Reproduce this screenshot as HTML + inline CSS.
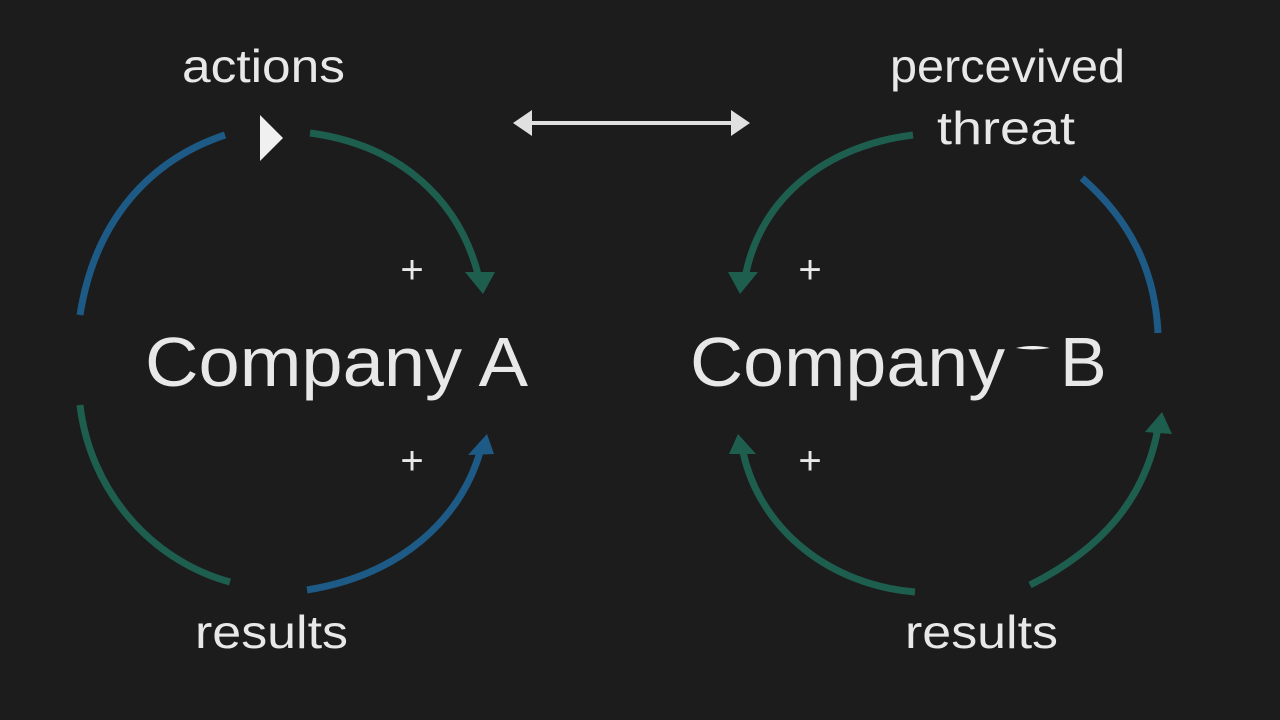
<!DOCTYPE html>
<html><head><meta charset="utf-8"><style>
html,body{margin:0;padding:0;background:#1c1c1c;}
svg{display:block}
text{font-family:"Liberation Sans","DejaVu Sans",sans-serif;fill:#e8e8e8;font-weight:500;}
</style></head><body>
<svg width="1280" height="720" viewBox="0 0 1280 720">
<rect width="1280" height="720" fill="#1c1c1c"/>
<g fill="none" stroke-width="7">
<path d="M80,315 C95,220 150,160 225,135" stroke="#1d5a86"/>
<path d="M310,133 C400,145 460,200 479,278" stroke="#1e5e4e"/>
<path d="M80,405 C90,490 150,560 230,582" stroke="#1e5e4e"/>
<path d="M307,590 C400,575 460,520 480,452" stroke="#1d5a86"/>
<path d="M913,135 C830,145 760,195 745,278" stroke="#1e5e4e"/>
<path d="M1082,178 C1130,220 1155,270 1158,333" stroke="#1d5a86"/>
<path d="M915,592 C830,585 760,530 743,452" stroke="#1e5e4e"/>
<path d="M1030,585 C1100,550 1145,500 1158,428" stroke="#1e5e4e"/>
</g>
<g>
<polygon points="465,272 495,272 483,294" fill="#1e5e4e"/>
<polygon points="468,455 494,454 487,434" fill="#1d5a86"/>
<polygon points="728,272 758,272 740,294" fill="#1e5e4e"/>
<polygon points="729,454 756,454 738,434" fill="#1e5e4e"/>
<polygon points="1145,432 1172,434 1162,412" fill="#1e5e4e"/>
</g>
<polygon points="260,115 283,138 260,161" fill="#f0f0f0"/>
<g stroke="#e0e0e0" stroke-width="4" fill="#e0e0e0">
<line x1="525" y1="123" x2="738" y2="123"/>
<polygon points="513,123 532,110 532,136" stroke="none"/>
<polygon points="750,123 731,110 731,136" stroke="none"/>
</g>
<text x="182" y="82" font-size="46" textLength="163" lengthAdjust="spacingAndGlyphs">actions</text>
<text x="890" y="82" font-size="46" textLength="235" lengthAdjust="spacingAndGlyphs">percevived</text>
<text x="937" y="144" font-size="46" textLength="138" lengthAdjust="spacingAndGlyphs">threat</text>
<text x="195" y="648" font-size="46" textLength="153" lengthAdjust="spacingAndGlyphs">results</text>
<text x="905" y="648" font-size="46" textLength="153" lengthAdjust="spacingAndGlyphs">results</text>
<text x="145" y="386" font-size="70" textLength="383" lengthAdjust="spacingAndGlyphs">Company A</text>
<text x="690" y="386" font-size="70" textLength="315" lengthAdjust="spacingAndGlyphs">Company</text>
<text x="1060" y="386" font-size="70">B</text>
<path d="M1016,348 Q1032,344 1050,348 Q1032,351 1016,348Z" fill="#f0f0f0"/>
<g font-size="40" text-anchor="middle">
<text x="412" y="283">+</text>
<text x="412" y="474">+</text>
<text x="810" y="283">+</text>
<text x="810" y="474">+</text>
</g>
</svg>
</body></html>
